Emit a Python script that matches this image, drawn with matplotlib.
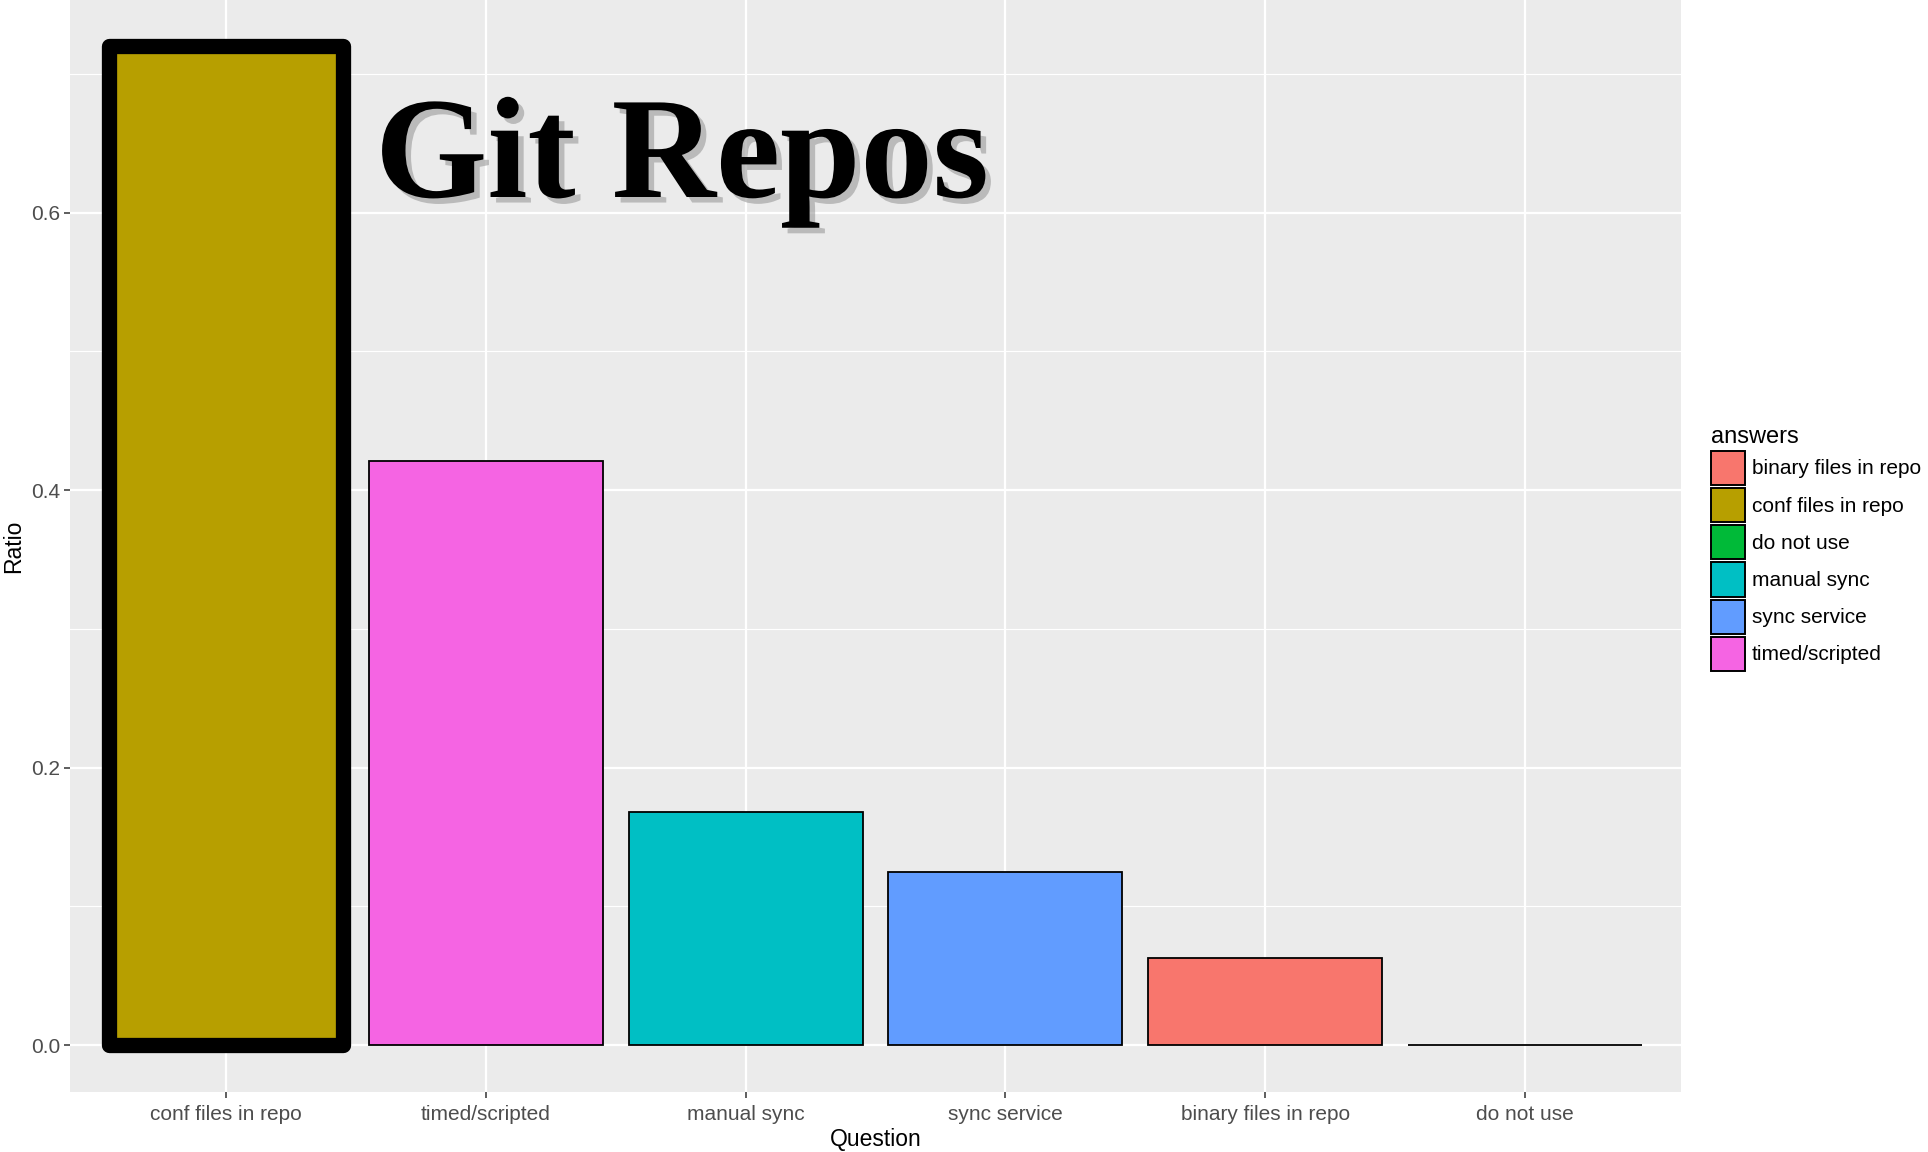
import matplotlib
matplotlib.use("Agg")
import matplotlib.pyplot as plt
import matplotlib.patheffects as pe
from matplotlib.patches import Patch
from matplotlib.ticker import MultipleLocator

questions = ["conf files in repo", "timed/scripted", "manual sync",
             "sync service", "binary files in repo", "do not use"]
ratios = [0.72, 0.421, 0.168, 0.125, 0.063, 0.0]
legend_answers = ["binary files in repo", "conf files in repo", "do not use",
                  "manual sync", "sync service", "timed/scripted"]
answer_colors = {"binary files in repo": "#F8766D", "conf files in repo": "#B79F00",
                 "do not use": "#00BA38", "manual sync": "#00BFC4",
                 "sync service": "#619CFF", "timed/scripted": "#F564E3"}
highlight = "conf files in repo"
title = "Git Repos"

plt.rcParams['font.family'] = ['Liberation Sans', 'DejaVu Sans']

fig = plt.figure(figsize=(19.28, 11.52), dpi=100)
ax = fig.add_axes([70/1928, 1-1092/1152, (1681-70)/1928, 1092/1152])
ax.set_facecolor("#EBEBEB")

x = list(range(1, len(questions)+1))
for xi, q, r in zip(x, questions, ratios):
    if q == highlight:
        ax.bar(xi, r, width=0.9, color=answer_colors[q], edgecolor="black",
               linewidth=11, joinstyle="round", zorder=3)
    else:
        ax.bar(xi, r, width=0.9, color=answer_colors[q], edgecolor="black",
               linewidth=1.3, zorder=3)

ax.set_xlim(0.4, len(questions)+0.6)
ax.set_ylim(-0.0337, 0.7533)
ax.set_xticks(x)
ax.set_xticklabels(questions)
ax.yaxis.set_minor_locator(MultipleLocator(0.1))
ax.set_yticks([0.0, 0.2, 0.4, 0.6])
ax.set_yticklabels(["0.0", "0.2", "0.4", "0.6"])
ax.grid(which="major", color="white", linewidth=1.6, zorder=0)
ax.grid(which="minor", axis="y", color="white", linewidth=0.8, zorder=0)
ax.set_axisbelow(True)
for s in ax.spines.values():
    s.set_visible(False)
ax.tick_params(axis="both", which="major", length=4, width=1.1, color="#333333",
               labelcolor="#4D4D4D", labelsize=15, pad=3)
ax.tick_params(axis="both", which="minor", length=0)
ax.tick_params(axis="x", pad=5)
ax.set_xlabel("Question", fontsize=16.5, color="black", labelpad=3)
ax.set_ylabel("Ratio", fontsize=16.5, color="black", labelpad=4)

fig.text(375/1928, 1-197/1152, title, fontsize=104, fontweight="bold",
         family="Liberation Serif", va="baseline", ha="left", color="black",
         path_effects=[pe.SimplePatchShadow(offset=(4, -4), shadow_rgbFace="#9A9A9A", alpha=0.6),
                       pe.Normal()])

handles = [Patch(facecolor=answer_colors[a], edgecolor="black", linewidth=1.4)
           for a in legend_answers]
leg = fig.legend(handles, legend_answers, loc="upper left",
                 bbox_to_anchor=(1694/1928, 1-409/1152), frameon=False,
                 fontsize=15, title="answers", title_fontsize=17,
                 handlelength=1.64, handleheight=2.14, labelspacing=0.15,
                 handletextpad=0.35, borderpad=0.3, alignment="left")

fig.savefig("out.png", dpi=100)
